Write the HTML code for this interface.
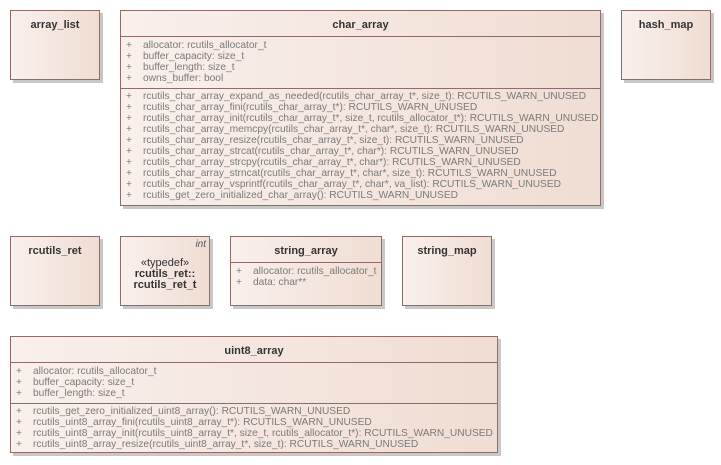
<!DOCTYPE html>
<html><head><style>
body{margin:0;width:721px;height:465px;background:#fff;position:relative;font-family:"Liberation Sans",sans-serif;overflow:hidden}
.b{position:absolute;box-sizing:border-box;border:1px solid #8c6d6b;background:linear-gradient(to right,#f9f0ec,#f0ddd3);box-shadow:3px 3px 0 #c8c8c8}
.t{font-weight:bold;font-size:11px;color:#333;text-align:center;position:absolute;left:0;right:0}
.d{position:absolute;left:0;right:0;border-top:1px solid #8c6d6b}
.l{position:absolute;font-size:10.2px;color:#7a7a7a;line-height:11px;white-space:pre;left:5px}
.l span{display:inline-block;width:17px}
</style></head><body>
<div class="b" style="left:10px;top:10px;width:90px;height:70px"><div class="t" style="top:8px">array_list</div></div>
<div class="b" style="left:120px;top:10px;width:481px;height:196px">
<div class="t" style="top:8px">char_array</div>
<div class="d" style="top:25px"></div>
<div class="l" style="top:29px"><span>+</span>allocator: rcutils_allocator_t
<span>+</span>buffer_capacity: size_t
<span>+</span>buffer_length: size_t
<span>+</span>owns_buffer: bool</div>
<div class="d" style="top:77px"></div>
<div class="l" style="top:80px"><span>+</span>rcutils_char_array_expand_as_needed(rcutils_char_array_t*, size_t): RCUTILS_WARN_UNUSED
<span>+</span>rcutils_char_array_fini(rcutils_char_array_t*): RCUTILS_WARN_UNUSED
<span>+</span>rcutils_char_array_init(rcutils_char_array_t*, size_t, rcutils_allocator_t*): RCUTILS_WARN_UNUSED
<span>+</span>rcutils_char_array_memcpy(rcutils_char_array_t*, char*, size_t): RCUTILS_WARN_UNUSED
<span>+</span>rcutils_char_array_resize(rcutils_char_array_t*, size_t): RCUTILS_WARN_UNUSED
<span>+</span>rcutils_char_array_strcat(rcutils_char_array_t*, char*): RCUTILS_WARN_UNUSED
<span>+</span>rcutils_char_array_strcpy(rcutils_char_array_t*, char*): RCUTILS_WARN_UNUSED
<span>+</span>rcutils_char_array_strncat(rcutils_char_array_t*, char*, size_t): RCUTILS_WARN_UNUSED
<span>+</span>rcutils_char_array_vsprintf(rcutils_char_array_t*, char*, va_list): RCUTILS_WARN_UNUSED
<span>+</span>rcutils_get_zero_initialized_char_array(): RCUTILS_WARN_UNUSED</div>
</div>
<div class="b" style="left:621px;top:10px;width:90px;height:70px"><div class="t" style="top:8px">hash_map</div></div>
<div class="b" style="left:10px;top:236px;width:90px;height:70px"><div class="t" style="top:8px">rcutils_ret</div></div>
<div class="b" style="left:120px;top:236px;width:90px;height:70px">
<div style="position:absolute;right:3px;top:2px;font-size:10px;font-style:italic;color:#555">int</div>
<div class="t" style="top:20px;font-weight:normal">«typedef»</div>
<div class="t" style="top:31px">rcutils_ret::</div>
<div class="t" style="top:42px">rcutils_ret_t</div>
</div>
<div class="b" style="left:230px;top:236px;width:152px;height:70px">
<div class="t" style="top:8px">string_array</div>
<div class="d" style="top:25px"></div>
<div class="l" style="top:29px"><span>+</span>allocator: rcutils_allocator_t
<span>+</span>data: char**</div>
</div>
<div class="b" style="left:402px;top:236px;width:90px;height:70px"><div class="t" style="top:8px">string_map</div></div>
<div class="b" style="left:10px;top:336px;width:488px;height:117px">
<div class="t" style="top:8px">uint8_array</div>
<div class="d" style="top:25px"></div>
<div class="l" style="top:29px"><span>+</span>allocator: rcutils_allocator_t
<span>+</span>buffer_capacity: size_t
<span>+</span>buffer_length: size_t</div>
<div class="d" style="top:66px"></div>
<div class="l" style="top:69px"><span>+</span>rcutils_get_zero_initialized_uint8_array(): RCUTILS_WARN_UNUSED
<span>+</span>rcutils_uint8_array_fini(rcutils_uint8_array_t*): RCUTILS_WARN_UNUSED
<span>+</span>rcutils_uint8_array_init(rcutils_uint8_array_t*, size_t, rcutils_allocator_t*): RCUTILS_WARN_UNUSED
<span>+</span>rcutils_uint8_array_resize(rcutils_uint8_array_t*, size_t): RCUTILS_WARN_UNUSED</div>
</div>
</body></html>
